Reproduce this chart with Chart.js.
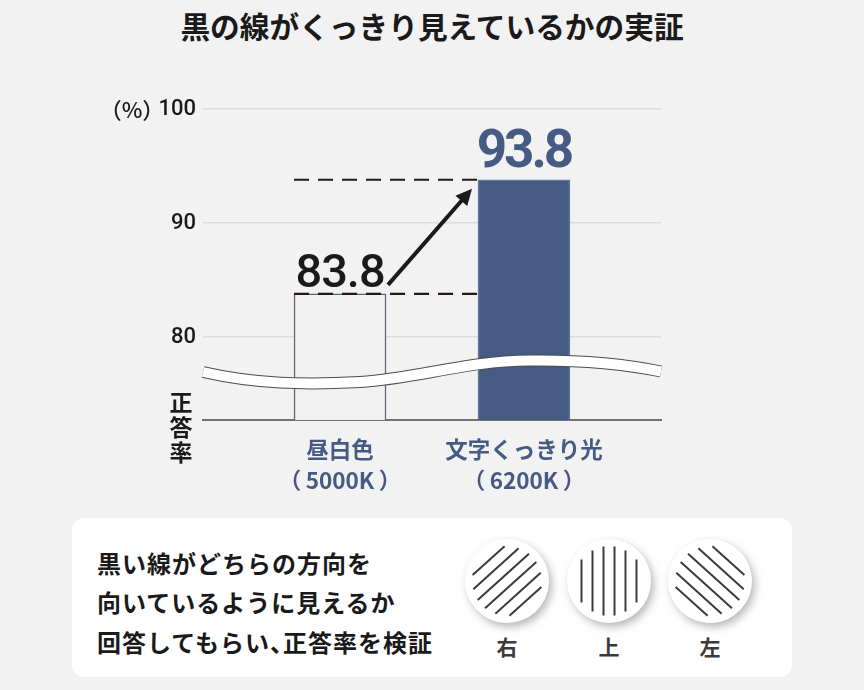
<!DOCTYPE html>
<html lang="ja">
<head>
<meta charset="utf-8">
<title>黒の線がくっきり見えているかの実証</title>
<script src="https://cdn.jsdelivr.net/npm/chart.js@4/dist/chart.umd.min.js"></script>
<style>
  html, body { margin: 0; padding: 0; background: #f2f2f2; }
  body { width: 864px; height: 690px; position: relative; overflow: hidden; font-family: "Noto Sans CJK JP", sans-serif; }
  #chart { position: absolute; left: 0; top: 0; width: 864px; height: 510px; }
  h1 { position: absolute; left: 0; top: 7px; width: 864px; margin: 0; text-align: center; font-size: 29.7px; font-weight: 700; line-height: 38px; color: #1a1a1a; }
  .panel { position: absolute; left: 72px; top: 518px; width: 720px; height: 159px; background: #fff; border-radius: 12px; }
  .note { position: absolute; left: 25px; top: 24.5px; margin: 0; font-size: 24px; font-weight: 700; line-height: 39.5px; letter-spacing: 1px; color: #1a1a1a; white-space: nowrap; }
  .note span { letter-spacing: -11px; }
  .dial { position: absolute; top: 21px; width: 84px; text-align: center; color: #3e3a39; font-size: 21px; font-weight: 700; }
  .dial svg { display: block; width: 84px; height: 84px; overflow: visible; filter: drop-shadow(3px 4px 4px rgba(0,0,0,.28)); }
  .dial span { display: block; margin-top: 8px; line-height: 30px; }
</style>
</head>
<body>
<h1>黒の線がくっきり見えているかの実証</h1>
<canvas id="chart" width="864" height="510"></canvas>
<div class="panel">
  <p class="note">黒い線がどちらの方向を<br>向いているように見えるか<br>回答してもらい<span>、</span>正答率を検証</p>
  <div class="dial" style="left:393px"><svg viewBox="-42 -42 84 84"><g data-angle="48"></g></svg><span>右</span></div>
  <div class="dial" style="left:495px"><svg viewBox="-42 -42 84 84"><g data-angle="0"></g></svg><span>上</span></div>
  <div class="dial" style="left:596px"><svg viewBox="-42 -42 84 84"><g data-angle="-48"></g></svg><span>左</span></div>
</div>
<script>
// Chart data
const categories = [['昼白色', '（\u20095000K\u2009）'], ['文字くっきり光', '（\u20096200K\u2009）']];
const barValues = [83.8, 93.8];
const yTicks = [80, 90, 100];

const blue = '#465b83';
const ink = '#1a1a1a';
const font = '"Noto Sans CJK JP", sans-serif';
const digits = 'Roboto, sans-serif';

// Hatched circles in the panel
document.querySelectorAll('.dial g').forEach(g => {
  g.setAttribute('transform', `rotate(${g.dataset.angle})`);
  const offsets = [-27.5, -16.5, -5.5, 5.5, 16.5, 27.5];
  const halves = [21.5, 30.5, 34.5, 34.5, 30.5, 21.5];
  g.innerHTML = '<circle r="42" fill="#fff"></circle>' + offsets.map((x, i) =>
    `<line x1="${x}" x2="${x}" y1="${-halves[i]}" y2="${halves[i]}" stroke="#3e3a39" stroke-width="2"></line>`).join('');
});

// Everything drawn on top of the bars: dashes, arrow, value labels, axis notes, wave break
const overlay = {
  id: 'overlay',
  afterDatasetsDraw(chart) {
    const { ctx, scales: { x, y } } = chart;
    const y1 = y.getPixelForValue(barValues[0]);
    const y2 = y.getPixelForValue(barValues[1]);
    const left = x.getPixelForValue(0) - 46;
    const right = x.getPixelForValue(1) - 46;

    ctx.save();

    // wave
    ctx.lineCap = 'butt';
    const wave = () => {
      ctx.beginPath();
      ctx.moveTo(chart.chartArea.left, 372);
      ctx.bezierCurveTo(255, 384, 305, 385, 360, 382);
      ctx.bezierCurveTo(420, 378, 465, 361, 530, 360.5);
      ctx.bezierCurveTo(580, 360, 625, 364, chart.chartArea.right, 371.5);
    };
    wave();
    ctx.strokeStyle = '#4d4d4d';
    ctx.lineWidth = 12;
    ctx.stroke();
    wave();
    ctx.strokeStyle = '#fff';
    ctx.lineWidth = 10;
    ctx.stroke();

    // dashed guides
    ctx.strokeStyle = '#231815';
    ctx.lineWidth = 2.2;
    ctx.setLineDash([15, 9]);
    [y1, y2].forEach(py => {
      ctx.beginPath();
      ctx.moveTo(left, py);
      ctx.lineTo(right, py);
      ctx.stroke();
    });
    ctx.setLineDash([]);

    // arrow
    const ax = 388, ay = y1 - 9, bx = 472, by = y2 + 9;
    const ang = Math.atan2(by - ay, bx - ax);
    ctx.strokeStyle = ink;
    ctx.fillStyle = ink;
    ctx.lineWidth = 4;
    ctx.beginPath();
    ctx.moveTo(ax, ay);
    ctx.lineTo(bx - 10 * Math.cos(ang), by - 10 * Math.sin(ang));
    ctx.stroke();
    ctx.beginPath();
    ctx.moveTo(bx, by);
    ctx.lineTo(bx - 18 * Math.cos(ang - 0.45), by - 18 * Math.sin(ang - 0.45));
    ctx.lineTo(bx - 18 * Math.cos(ang + 0.45), by - 18 * Math.sin(ang + 0.45));
    ctx.closePath();
    ctx.fill();

    // value labels
    ctx.textAlign = 'center';
    ctx.textBaseline = 'middle';
    ctx.fillStyle = ink;
    ctx.font = `500 47px ${digits}`;
    ctx.letterSpacing = '-1px';
    ctx.fillText(barValues[0].toFixed(1), x.getPixelForValue(0), y1 - 19);
    ctx.fillStyle = blue;
    ctx.font = `700 53px ${digits}`;
    ctx.letterSpacing = '-3px';
    ctx.fillText(barValues[1].toFixed(1), x.getPixelForValue(1), y2 - 26);
    ctx.letterSpacing = '0px';

    // axis notes
    ctx.fillStyle = ink;
    ctx.font = `500 22px ${font}`;
    ctx.fillText('（%）', 132, y.getPixelForValue(100) + 1);
    ctx.font = `700 23px ${font}`;
    ['正', '答', '率'].forEach((c, i) => ctx.fillText(c, 181, 402 + i * 25));

    ctx.restore();
  }
};

new Chart(document.getElementById('chart'), {
  type: 'bar',
  data: {
    datasets: [{
      data: barValues.map((v, i) => ({ x: i, y: v })),
      backgroundColor: ['#f2f2f2', blue],
      borderColor: ['#5b6478', '#64779b'],
      borderWidth: 1.5,
      barThickness: 92
    }]
  },
  options: {
    responsive: false,
    animation: false,
    layout: { padding: { top: 109, right: 203 } },
    plugins: {
      legend: { display: false },
      tooltip: { enabled: false }
    },
    scales: {
      x: {
        type: 'linear',
        offset: false,
        min: -0.745,
        max: 1.745,
        grid: { display: false },
        border: { color: '#727171', width: 2 },
        afterBuildTicks: s => { s.ticks = categories.map((c, i) => ({ value: i })); },
        ticks: {
          callback: v => categories[v],
          color: blue,
          padding: 6,
          autoSkip: false,
          maxRotation: 0,
          font: { family: font, size: 22.5, weight: 700, lineHeight: 1.38 }
        },
        afterFit: s => { s.height = 90; }
      },
      y: {
        min: 72.74,
        max: 100,
        grid: { color: '#dcdcdc', lineWidth: 1.5, drawTicks: false },
        border: { display: false },
        afterBuildTicks: s => { s.ticks = yTicks.map(v => ({ value: v })); },
        ticks: {
          color: ink,
          padding: 7,
          font: { family: digits, size: 22, weight: 500 }
        },
        afterFit: s => { s.width = 203; }
      }
    }
  },
  plugins: [overlay]
});
</script>
</body>
</html>
